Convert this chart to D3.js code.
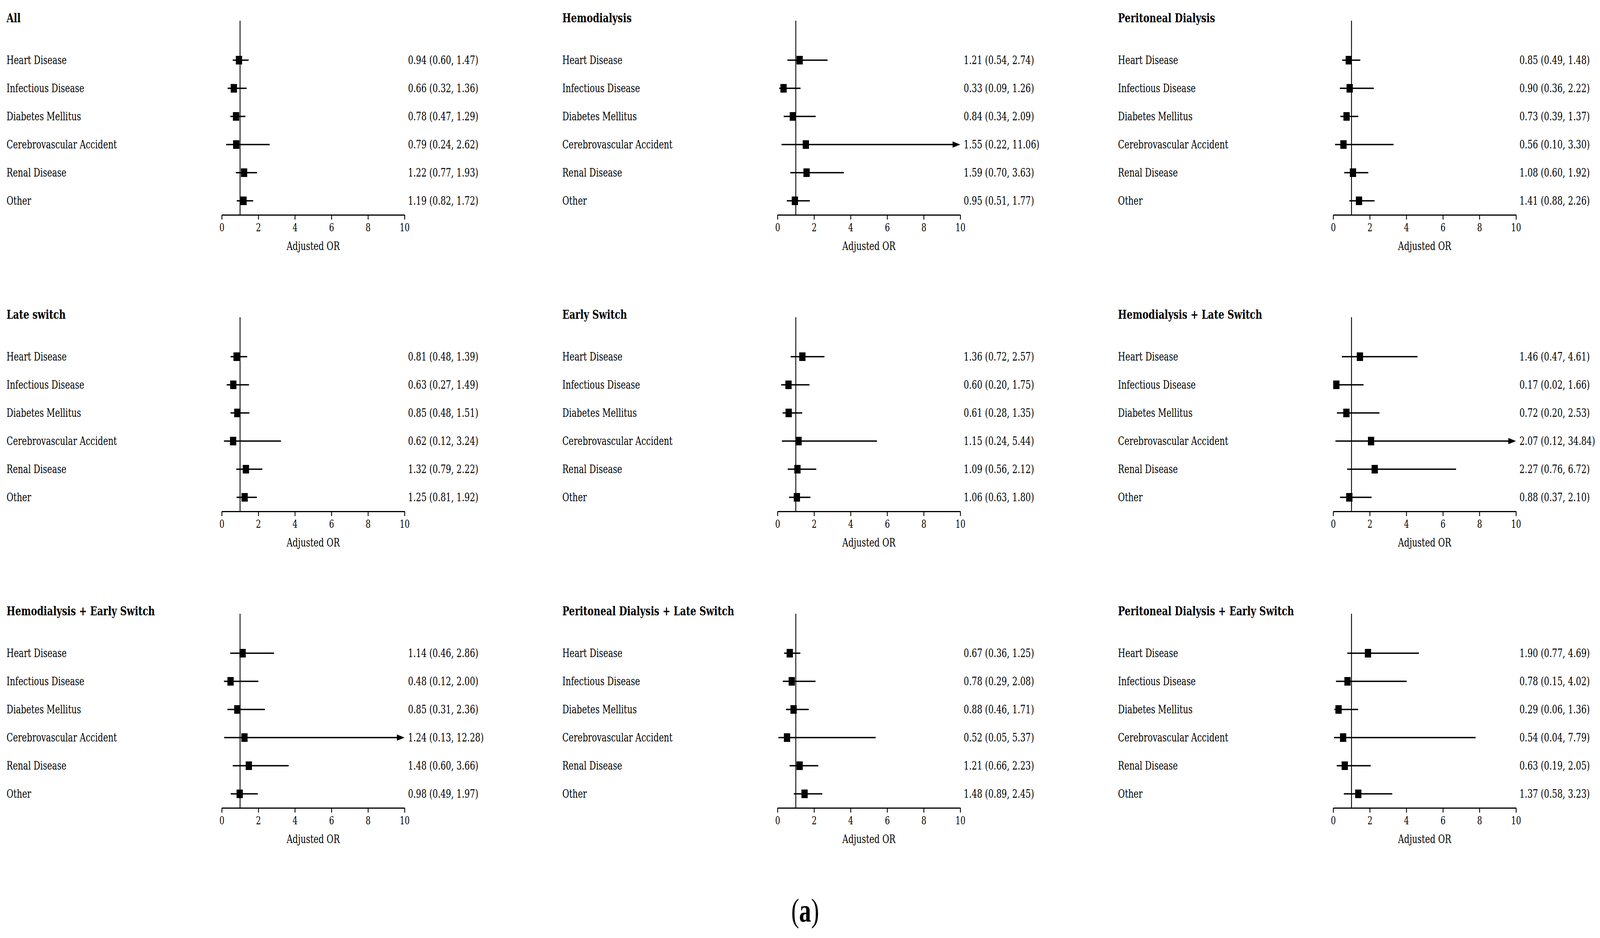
<!DOCTYPE html>
<html lang="en">
<head>
<meta charset="utf-8">
<title>Adjusted OR by cause of death</title>
<script src="https://cdnjs.cloudflare.com/ajax/libs/d3/7.8.5/d3.min.js"></script>
<style>
html, body { margin: 0; padding: 0; background: #fff; overflow: hidden; }
svg { display: block; font-family: "DejaVu Serif", serif; }
.title { font-weight: bold; font-size: 32.5px; }
.label, .ci-text { font-size: 29.4px; }
.axis-label { font-size: 29.4px; }
.axis text { font-family: "DejaVu Serif", serif; font-size: 27.5px; fill: #000; }
.axis path, .axis line { stroke: #000; stroke-width: 3; }
.ref { stroke: #000; stroke-width: 3; }
.ci { stroke: #000; stroke-width: 3.3; }
.box { fill: #000; }
</style>
</head>
<body>
<div id="chart"></div>
<script>

const w = 5620;
const h = 2401;

const panels = [
   "All", "Hemodialysis", "Peritoneal Dialysis",
   "Late switch", "Early Switch", "Hemodialysis + Late Switch",
   "Hemodialysis + Early Switch", "Peritoneal Dialysis + Late Switch", "Peritoneal Dialysis + Early Switch"
];

const causes = ["Heart Disease", "Infectious Disease", "Diabetes Mellitus",
   "Cerebrovascular Accident", "Renal Disease", "Other"];

// adjusted OR, one row per panel
const orValues = [
   [0.94, 0.66, 0.78, 0.79, 1.22, 1.19],
   [1.21, 0.33, 0.84, 1.55, 1.59, 0.95],
   [0.85, 0.90, 0.73, 0.56, 1.08, 1.41],
   [0.81, 0.63, 0.85, 0.62, 1.32, 1.25],
   [1.36, 0.60, 0.61, 1.15, 1.09, 1.06],
   [1.46, 0.17, 0.72, 2.07, 2.27, 0.88],
   [1.14, 0.48, 0.85, 1.24, 1.48, 0.98],
   [0.67, 0.78, 0.88, 0.52, 1.21, 1.48],
   [1.90, 0.78, 0.29, 0.54, 0.63, 1.37]
];

const ciLower = [
   [0.60, 0.32, 0.47, 0.24, 0.77, 0.82],
   [0.54, 0.09, 0.34, 0.22, 0.70, 0.51],
   [0.49, 0.36, 0.39, 0.10, 0.60, 0.88],
   [0.48, 0.27, 0.48, 0.12, 0.79, 0.81],
   [0.72, 0.20, 0.28, 0.24, 0.56, 0.63],
   [0.47, 0.02, 0.20, 0.12, 0.76, 0.37],
   [0.46, 0.12, 0.31, 0.13, 0.60, 0.49],
   [0.36, 0.29, 0.46, 0.05, 0.66, 0.89],
   [0.77, 0.15, 0.06, 0.04, 0.19, 0.58]
];

const ciUpper = [
   [1.47, 1.36, 1.29, 2.62, 1.93, 1.72],
   [2.74, 1.26, 2.09, 11.06, 3.63, 1.77],
   [1.48, 2.22, 1.37, 3.30, 1.92, 2.26],
   [1.39, 1.49, 1.51, 3.24, 2.22, 1.92],
   [2.57, 1.75, 1.35, 5.44, 2.12, 1.80],
   [4.61, 1.66, 2.53, 34.84, 6.72, 2.10],
   [2.86, 2.00, 2.36, 12.28, 3.66, 1.97],
   [1.25, 2.08, 1.71, 5.37, 2.23, 2.45],
   [4.69, 4.02, 1.36, 7.79, 2.05, 3.23]
];

const xTicks = [0, 2, 4, 6, 8, 10];
const xMax = 10;

const colStep = 1952;
const rowStep = 759;
const rowGap = 72;
const firstRow = 154;
const axisY = 550;
const boxSize = 22;
const fmt = d3.format(".2f");

// the window may come out narrower than asked, so stretch the drawing to fill it
const svg = d3.select("#chart")
   .append("svg")
   .attr("viewBox", "0 0 " + w + " " + h)
   .attr("preserveAspectRatio", "none")
   .style("width", "100vw")
   .style("height", "100vh");

panels.forEach(function(title, p) {
   const g = svg.append("g")
      .attr("transform", "translate(" + (p % 3) * colStep + "," + Math.floor(p / 3) * rowStep + ")");

   const xScale = d3.scaleLinear()
      .domain([0, xMax])
      .range([779, 1421]);

   const yScale = d3.scaleLinear()
      .domain([0, causes.length - 1])
      .range([firstRow, firstRow + rowGap * (causes.length - 1)]);

   const rows = causes.map((c, i) => ({
      cause: c,
      or: orValues[p][i],
      lo: ciLower[p][i],
      hi: ciUpper[p][i],
      i: i
   }));

   g.append("text")
      .attr("class", "title")
      .attr("x", 23)
      .attr("y", 57)
      .text(title);

   g.append("text")
      .attr("class", "axis-label")
      .attr("x", (xScale(0) + xScale(xMax)) / 2)
      .attr("y", 640)
      .attr("text-anchor", "middle")
      .text("Adjusted OR");

   // reference line at OR = 1
   g.append("line")
      .attr("class", "ref")
      .attr("x1", xScale(1))
      .attr("x2", xScale(1))
      .attr("y1", 53)
      .attr("y2", axisY);

   g.append("g")
      .attr("class", "axis")
      .attr("transform", "translate(0," + axisY + ")")
      .call(d3.axisBottom(xScale)
         .tickValues(xTicks)
         .tickSize(12)
         .tickSizeOuter(0)
         .tickPadding(10)
         .tickFormat(d3.format("d")));

   g.selectAll(".label")
      .data(rows)
      .enter()
      .append("text")
      .attr("class", "label")
      .attr("x", 23)
      .attr("y", d => yScale(d.i))
      .attr("dy", "0.34em")
      .text(d => d.cause);

   g.selectAll(".ci-text")
      .data(rows)
      .enter()
      .append("text")
      .attr("class", "ci-text")
      .attr("x", 1433)
      .attr("y", d => yScale(d.i))
      .attr("dy", "0.34em")
      .text(d => fmt(d.or) + " (" + fmt(d.lo) + ", " + fmt(d.hi) + ")");

   // confidence intervals, clipped at the axis end with an arrow
   g.selectAll(".ci")
      .data(rows)
      .enter()
      .append("line")
      .attr("class", "ci")
      .attr("x1", d => xScale(d.lo))
      .attr("x2", d => d.hi > xMax ? xScale(xMax) - 20 : xScale(d.hi))
      .attr("y1", d => yScale(d.i))
      .attr("y2", d => yScale(d.i));

   g.selectAll(".arrow")
      .data(rows.filter(d => d.hi > xMax))
      .enter()
      .append("path")
      .attr("class", "box")
      .attr("d", function(d) {
         const tx = xScale(xMax), ty = yScale(d.i);
         return "M" + tx + "," + ty + "L" + (tx - 27) + "," + (ty - 8) + "L" + (tx - 27) + "," + (ty + 8) + "Z";
      });

   g.selectAll(".box-mark")
      .data(rows)
      .enter()
      .append("rect")
      .attr("class", "box")
      .attr("x", d => xScale(d.or) - boxSize / 2)
      .attr("y", d => yScale(d.i) - boxSize / 2)
      .attr("width", boxSize)
      .attr("height", boxSize);
});

svg.append("text")
   .attr("x", 2828)
   .attr("y", 2359)
   .attr("text-anchor", "middle")
   .style("font-family", "'Liberation Serif', serif")
   .style("font-size", "84px")
   .html("(<tspan font-weight='bold'>a</tspan>)");

</script>
</body>
</html>
